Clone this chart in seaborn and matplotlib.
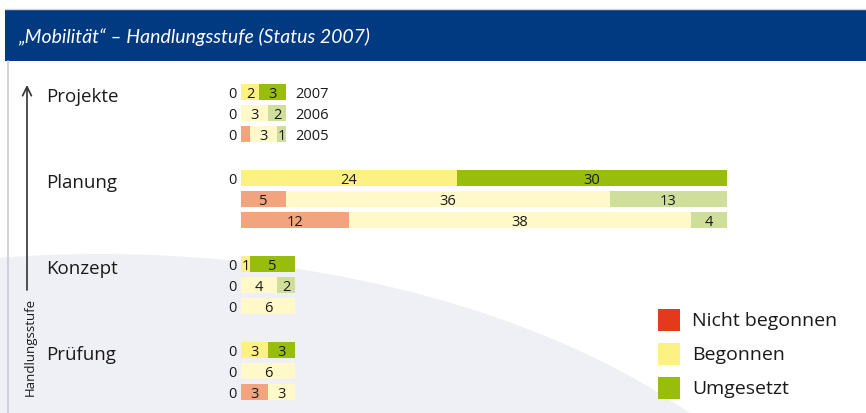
import matplotlib
matplotlib.use("Agg")
import matplotlib.pyplot as plt
from matplotlib.patches import Rectangle, Ellipse
import seaborn as sns
import pandas as pd

# ---- data ----
stages = ["Projekte", "Planung", "Konzept", "Prüfung"]
years = ["2007", "2006", "2005"]
nicht_begonnen = [0, 0, 1, 0, 5, 12, 0, 0, 0, 0, 0, 3]
begonnen = [2, 3, 3, 24, 36, 38, 1, 4, 6, 3, 6, 3]
umgesetzt = [3, 2, 1, 30, 13, 4, 5, 2, 0, 3, 0, 0]
nb_text = ["", "", "", "", "5", "12", "", "", "", "", "", "3"]
b_text = ["2", "3", "3", "24", "36", "38", "1", "4", "6", "3", "6", "3"]
u_text = ["3", "2", "1", "30", "13", "4", "5", "2", "", "3", "", ""]
left_text = ["0", "0", "0", "0", "", "", "0", "0", "0", "0", "0", "0"]
year_text = ["2007", "2006", "2005"]
legend_labels = ["Nicht begonnen", "Begonnen", "Umgesetzt"]
title = "„Mobilität“ – Handlungsstufe (Status 2007)"
axis_label = "Handlungsstufe"

# colours
bright = ["#E5391C", "#FEF184", "#98BD0D"]
light = ["#F2A47E", "#FFF8C9", "#D0DE9C"]
navy = "#013A81"

W, H = 866, 414
sns.set_theme(style="white")
plt.rcParams["font.family"] = ["Open Sans", "DejaVu Sans"]

fig = plt.figure(figsize=(W / 100, H / 100), dpi=100)
fig.patch.set_facecolor("white")

def fx(px):
    return px / W

def fy(py):
    return 1 - py / H

# background decoration
fig.patches.append(Ellipse((fx(100), fy(700)), 2 * 770 / W, 2 * 445 / H,
                           transform=fig.transFigure, facecolor="#EFEFF6",
                           edgecolor="none", zorder=-10))
fig.patches.append(Rectangle((fx(0), fy(62)), fx(8), 62 / H, transform=fig.transFigure,
                             facecolor="white", edgecolor="none", zorder=-9))
fig.patches.append(Rectangle((fx(5), fy(62)), 1 - fx(5), (62 - 10) / H,
                             transform=fig.transFigure, facecolor=navy,
                             edgecolor="none", zorder=-8))
fig.lines.append(plt.Line2D([fx(8), fx(8)], [fy(62), fy(414)], transform=fig.transFigure,
                            color="#C9C9DD", lw=1.2, zorder=-7))
fig.lines.append(plt.Line2D([fx(5), 1], [fy(9.5), fy(9.5)], transform=fig.transFigure,
                            color="#D4D4E4", lw=1, zorder=-7))
fig.text(fx(18), fy(37), title, color="white", fontsize=14, style="italic",
         family=["Lato", "DejaVu Sans"], va="center", ha="left")

# main axes: x px = 241 + 9*value, y px = 93 + 21*pos
ax = fig.add_axes([0, 0, 1, 1])
ax.patch.set_alpha(0)

rows = []
for g, st in enumerate(stages):
    for r, yr in enumerate(years):
        rows.append(dict(stage=st, year=yr, pos=g * 4.1 + r))
df = pd.DataFrame(rows)
df["nb"] = nicht_begonnen
df["b"] = begonnen
df["u"] = umgesetzt
df["c1"] = df["nb"]
df["c2"] = df["nb"] + df["b"]
df["c3"] = df["nb"] + df["b"] + df["u"]

for col, k in [("c3", 2), ("c2", 1), ("c1", 0)]:
    pal = {"2007": bright[k], "2006": light[k], "2005": light[k]}
    sns.barplot(data=df, x=col, y="pos", hue="year", palette=pal, orient="h",
                native_scale=True, dodge=False, width=0.76, errorbar=None,
                linewidth=0, saturation=1, legend=False, ax=ax)

fs = 10.5
for i, row in df.iterrows():
    y = row["pos"] + 0.05
    nb, b, u = row["nb"], row["b"], row["u"]
    if nb_text[i]:
        ax.text(nb / 2, y, nb_text[i], ha="center", va="center", fontsize=fs, color="#1a1a1a")
    if b_text[i]:
        ax.text(nb + b / 2, y, b_text[i], ha="center", va="center", fontsize=fs, color="#1a1a1a")
    if u_text[i]:
        ax.text(nb + b + u / 2, y, u_text[i], ha="center", va="center", fontsize=fs, color="#1a1a1a")
    if left_text[i]:
        ax.text(-0.5, y, left_text[i], ha="right", va="center", fontsize=fs, color="#1a1a1a")
    if row["stage"] == stages[0]:
        ax.text(row["c3"] + 1.0, y, year_text[years.index(row["year"])], ha="left",
                va="center", fontsize=fs, color="#1a1a1a")

# stage labels
for g, st in enumerate(stages):
    ax.text(-21.6, g * 4.1 + 0.2, st, ha="left", va="center", fontsize=13.5, color="#1a1a1a")

ax.set_xlim(-241 / 9, (W - 241) / 9)
ax.set_ylim((H - 93) / 21, -93 / 21)
ax.axis("off")

# vertical arrow + rotated label
ax.annotate("", xy=(fx(27), fy(86)), xytext=(fx(27), fy(291)),
            xycoords="figure fraction", textcoords="figure fraction",
            arrowprops=dict(arrowstyle="->", color="#333333", lw=1.2,
                            mutation_scale=16, shrinkA=0, shrinkB=0))
fig.text(fx(30), fy(347), axis_label, rotation=90, ha="center", va="center",
         fontsize=9.5, color="#1a1a1a")

# legend
for k, (lab, y0) in enumerate(zip(legend_labels, [310, 344, 378])):
    fig.patches.append(Rectangle((fx(658), fy(y0 + 22)), 22 / W, 22 / H,
                                 transform=fig.transFigure, facecolor=bright[k],
                                 edgecolor="none", zorder=3))
    fig.text(fx(692), fy(y0 + 11), lab, ha="left", va="center", fontsize=14,
             color="#1a1a1a", zorder=3)

fig.savefig("out.png", dpi=100)
